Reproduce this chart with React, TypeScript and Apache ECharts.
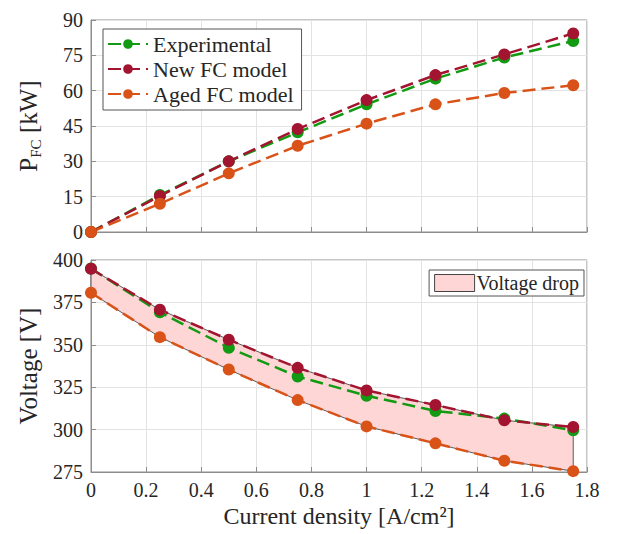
import React, { useEffect, useRef } from "react";
import * as echarts from "echarts";

const currentDensity = [0, 0.25, 0.5, 0.75, 1.0, 1.25, 1.5, 1.75];
const powerExperimental = [0, 15.7, 30.0, 42.3, 54.2, 65.1, 74.1, 81.1];
const powerNewModel = [0, 15.3, 30.0, 43.7, 56.0, 66.6, 75.4, 84.3];
const powerAgedModel = [0, 12.0, 24.9, 36.6, 46.0, 54.2, 59.0, 62.3];
const voltageExperimental = [395, 369.2, 348.3, 331.3, 320.0, 311.0, 306.5, 299.6];
const voltageNewModel = [394.8, 370.7, 353.0, 336.4, 323.1, 314.5, 305.5, 301.5];
const voltageAgedModel = [380.7, 354.5, 335.4, 317.4, 301.9, 291.9, 281.6, 275.5];
const seriesNames = ["Experimental", "New FC model", "Aged FC model"];
const fillName = "Voltage drop";

const GREEN = "#129a12";
const RED = "#a2142f";
const ORANGE = "#d95319";
const FONT = "Liberation Serif";
const TEXT = "#262626";

export default function App() {
  const ref = useRef<HTMLDivElement>(null);
  useEffect(() => {
    const chart = echarts.init(ref.current!, null, { renderer: "svg" });
    const pair = (ys: number[]) => currentDensity.map((x, i) => [x, ys[i]]);
    const colors = [GREEN, RED, ORANGE];
    const lineSeries = (name: string, ys: number[], idx: number, c: string) => ({
      type: "line",
      name,
      xAxisIndex: idx,
      yAxisIndex: idx,
      data: pair(ys),
      symbol: "circle",
      symbolSize: 12,
      lineStyle: { color: c, width: 2.5, type: [13, 6] },
      itemStyle: { color: c },
      z: 3,
    });
    const xAxisBase = {
      type: "value",
      min: 0,
      max: 1.8,
      interval: 0.2,
      axisLine: { show: true, lineStyle: { color: "#8c8c8c", width: 1 } },
      axisTick: { show: true, inside: true, length: 5, lineStyle: { color: "#8c8c8c" } },
      splitLine: { show: true, lineStyle: { color: "#e3e3e3", width: 1 } },
    };
    const yAxisBase = {
      type: "value",
      axisLine: { show: true, lineStyle: { color: "#8c8c8c", width: 1 } },
      axisTick: { show: true, inside: true, length: 5, lineStyle: { color: "#8c8c8c" } },
      splitLine: { show: true, lineStyle: { color: "#e3e3e3", width: 1 } },
      axisLabel: { color: TEXT, fontFamily: FONT, fontSize: 20, margin: 8 },
      nameLocation: "middle",
      nameRotate: 90,
    };
    const gridBase = {
      left: 91,
      width: 496,
      height: 212,
      show: true,
      borderColor: "#8c8c8c",
      borderWidth: 1,
      backgroundColor: "transparent",
      outerBoundsMode: "none",
      containLabel: false,
    };
    chart.setOption({
      animation: false,
      backgroundColor: "#ffffff",
      textStyle: { fontFamily: FONT, color: TEXT },
      grid: [
        { ...gridBase, top: 20 },
        { ...gridBase, top: 260 },
      ],
      xAxis: [
        { ...xAxisBase, gridIndex: 0, axisLabel: { show: false } },
        {
          ...xAxisBase,
          gridIndex: 1,
          axisLabel: { color: TEXT, fontFamily: FONT, fontSize: 20, margin: 8, formatter: (v: number) => String(Math.round(v * 10) / 10) },
          name: "Current density [A/cm²]",
          nameLocation: "middle",
          nameGap: 32,
          nameTextStyle: { color: TEXT, fontFamily: FONT, fontSize: 24 },
        },
      ],
      yAxis: [
        {
          ...yAxisBase,
          gridIndex: 0,
          min: 0,
          max: 90,
          interval: 15,
          name: "{a|P}{s|FC}{a| [kW]}",
          nameGap: 48,
          nameTextStyle: {
            rich: {
              a: { fontFamily: FONT, fontSize: 25, color: TEXT },
              s: { fontFamily: FONT, fontSize: 15, color: TEXT, verticalAlign: "bottom", padding: [15, 0, 0, 0] },
            },
          },
        },
        {
          ...yAxisBase,
          gridIndex: 1,
          min: 275,
          max: 400,
          interval: 25,
          name: "Voltage [V]",
          nameGap: 50,
          nameTextStyle: { fontFamily: FONT, fontSize: 25, color: TEXT },
        },
      ],
      legend: [
        {
          data: seriesNames,
          left: 103,
          top: 29,
          orient: "vertical",
          itemWidth: 40,
          itemHeight: 12,
          itemGap: 1,
          padding: [3, 8, 4, 4],
          borderColor: "#555",
          borderWidth: 1,
          backgroundColor: "#fff",
          borderRadius: 0,
          textStyle: { fontFamily: FONT, fontSize: 22, color: TEXT, lineHeight: 24 },
        },
        {
          data: [{ name: fillName, icon: "rect", itemStyle: { color: "#ffd6d6", borderColor: "#444", borderWidth: 1 } }],
          right: 46,
          top: 270,
          itemWidth: 40,
          itemHeight: 17,
          itemGap: 2,
          padding: [3, 5, 3, 5],
          borderColor: "#555",
          borderWidth: 1,
          backgroundColor: "#fff",
          borderRadius: 0,
          textStyle: { fontFamily: FONT, fontSize: 20, color: TEXT, padding: [0, 0, 0, -3] },
        },
      ],
      series: [
        {
          type: "custom",
          name: fillName,
          xAxisIndex: 1,
          yAxisIndex: 1,
          data: [[0, 300]],
          itemStyle: { color: "#ffd6d6", borderColor: "#444" },
          z: 1,
          silent: true,
          renderItem: (_params: any, api: any) => {
            const top = currentDensity.map((x, i) => api.coord([x, voltageNewModel[i]]));
            const bottom = currentDensity.map((x, i) => api.coord([x, voltageAgedModel[i]])).reverse();
            return {
              type: "polygon",
              shape: { points: [...top, ...bottom] },
              style: { fill: "#ffd6d6", stroke: "#333", lineWidth: 0.8 },
            };
          },
        },
        lineSeries(seriesNames[0], powerExperimental, 0, colors[0]),
        lineSeries(seriesNames[1], powerNewModel, 0, colors[1]),
        lineSeries(seriesNames[2], powerAgedModel, 0, colors[2]),
        lineSeries(seriesNames[0], voltageExperimental, 1, colors[0]),
        lineSeries(seriesNames[1], voltageNewModel, 1, colors[1]),
        lineSeries(seriesNames[2], voltageAgedModel, 1, colors[2]),
      ],
    });
    return () => chart.dispose();
  }, []);
  return <div ref={ref} style={{ width: 630, height: 534, position: "absolute", left: 0, top: 0 }} />;
}
